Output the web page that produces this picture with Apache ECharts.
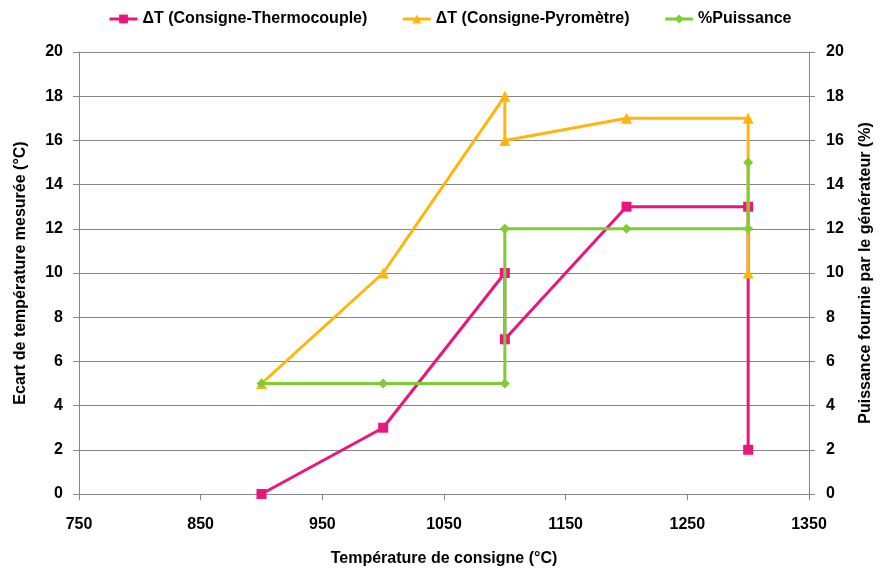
<!DOCTYPE html>
<html>
<head>
<meta charset="utf-8">
<script src="https://cdn.jsdelivr.net/npm/echarts@6/dist/echarts.min.js"></script>
<style>html,body{margin:0;padding:0;background:#fff}#c{width:882px;height:572px}</style>
</head>
<body>
<div id="c"></div>
<script>
var consigne = [900, 1000, 1100, 1100, 1200, 1300, 1300];
var dtThermo = [0, 3, 10, 7, 13, 13, 2];
var dtPyro = [5, 10, 18, 16, 17, 17, 10];
var puissance = [5, 5, 5, 12, 12, 12, 15];
var seriesNames = ['ΔT (Consigne-Thermocouple)', 'ΔT (Consigne-Pyromètre)', '%Puissance'];
var xTitle = 'Température de consigne (°C)';
var yLeftTitle = 'Ecart de température mesurée (°C)';
var yRightTitle = 'Puissance fournie par le générateur (%)';

function pairs(xs, ys) { return xs.map(function (x, i) { return [x, ys[i]]; }); }

var FONT = '"Liberation Sans", Arial, sans-serif';
var txt = { color: '#000', fontWeight: 'bold', fontFamily: FONT, fontSize: 16 };
var axisGray = '#868686';
var chart = echarts.init(document.getElementById('c'));
chart.setOption({
  animation: false,
  backgroundColor: '#fff',
  legend: {
    top: 6, left: 103,
    itemWidth: 28, itemHeight: 11, itemGap: 34,
    lineStyle: { width: 3 },
    textStyle: txt,
    data: seriesNames
  },
  grid: { left: 79, right: 71, top: 52, bottom: 78, containLabel: false },
  xAxis: {
    type: 'value', min: 750, max: 1350, interval: 100,
    name: xTitle, nameLocation: 'middle', nameGap: 57,
    nameTextStyle: txt,
    axisLine: { show: true, lineStyle: { color: axisGray, width: 1 } },
    axisTick: { show: true, length: 6, lineStyle: { color: axisGray } },
    axisLabel: Object.assign({ margin: 23, formatter: function (v) { return String(v); } }, txt),
    splitLine: { show: false }
  },
  yAxis: [{
    type: 'value', min: 0, max: 20, interval: 2, position: 'left',
    name: yLeftTitle, nameLocation: 'middle', nameGap: 50, nameRotate: 90,
    nameTextStyle: txt,
    axisLine: { show: true, lineStyle: { color: axisGray, width: 1 } },
    axisTick: { show: true, length: 6, lineStyle: { color: axisGray } },
    axisLabel: Object.assign({ margin: 16 }, txt),
    splitLine: { show: true, lineStyle: { color: axisGray, width: 1 } }
  }, {
    type: 'value', min: 0, max: 20, interval: 2, position: 'right',
    name: yRightTitle, nameLocation: 'middle', nameGap: 49, nameRotate: 90,
    nameTextStyle: txt,
    axisLine: { show: true, lineStyle: { color: axisGray, width: 1 } },
    axisTick: { show: true, length: 6, lineStyle: { color: axisGray } },
    axisLabel: Object.assign({ margin: 17 }, txt),
    splitLine: { show: false }
  }],
  series: [{
    name: seriesNames[0], type: 'line', yAxisIndex: 0,
    data: pairs(consigne, dtThermo),
    symbol: 'rect', symbolSize: 10, color: '#E9177D',
    lineStyle: { width: 3, color: '#E9177D' }, itemStyle: { color: '#E9177D' }, z: 2
  }, {
    name: seriesNames[1], type: 'line', yAxisIndex: 0,
    data: pairs(consigne, dtPyro),
    symbol: 'triangle', symbolSize: 11, color: '#FFB50A',
    lineStyle: { width: 3, color: '#FFB50A' }, itemStyle: { color: '#FFB50A' }, z: 3
  }, {
    name: seriesNames[2], type: 'line', yAxisIndex: 1,
    data: pairs(consigne, puissance),
    symbol: 'diamond', symbolSize: 10, color: '#80CC33',
    lineStyle: { width: 3, color: '#80CC33' }, itemStyle: { color: '#80CC33' }, z: 4
  }]
});
</script>
</body>
</html>
